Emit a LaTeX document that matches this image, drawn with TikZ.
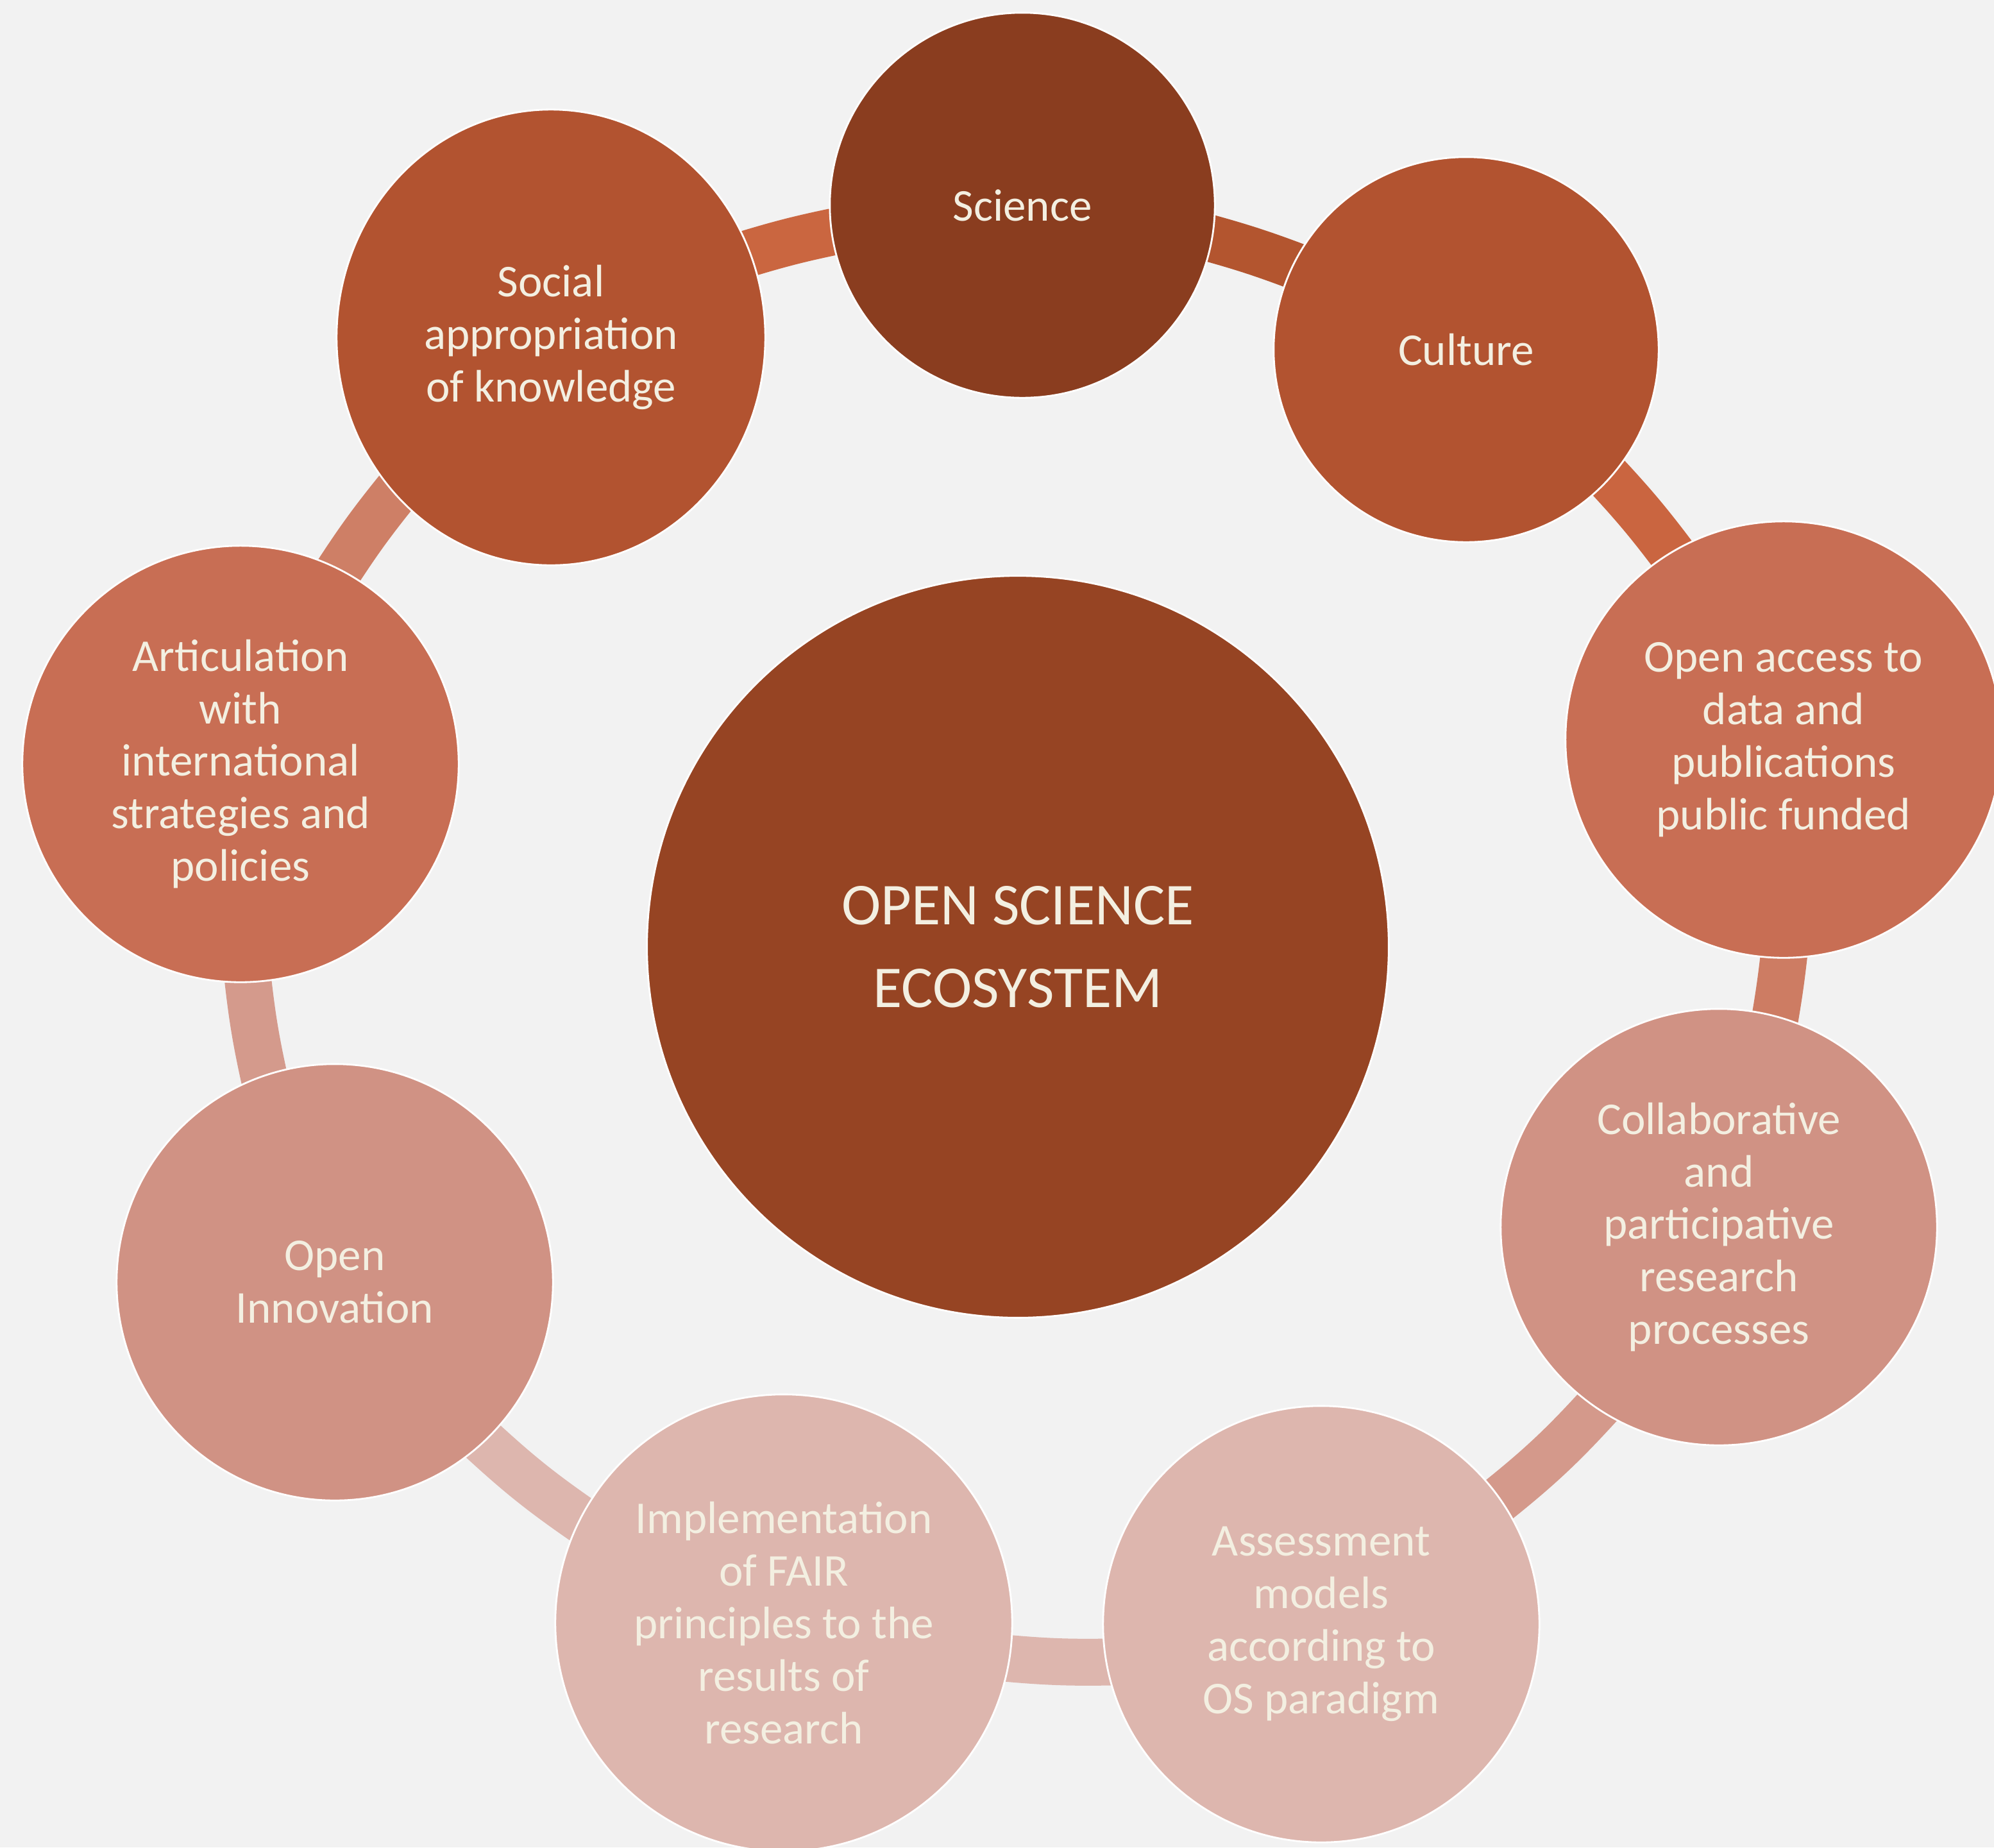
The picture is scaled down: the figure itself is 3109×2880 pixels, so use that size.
\documentclass[tikz,border=0pt]{standalone}
\usepackage{fontspec}
\setmainfont{Carlito}
\usetikzlibrary{shapes.geometric}
\definecolor{bgc}{HTML}{F2F2F2}
\definecolor{txt}{HTML}{F3EFE1}
\definecolor{cC}{HTML}{964423}
\definecolor{c0}{HTML}{8A3D1F}
\definecolor{c1}{HTML}{B25330}
\definecolor{c2}{HTML}{C86E54}
\definecolor{c3}{HTML}{D09284}
\definecolor{c4}{HTML}{DDB6AE}
\definecolor{r1}{HTML}{CA6640}
\definecolor{r2}{HTML}{B3552F}
\definecolor{r3}{HTML}{CA6540}
\definecolor{r4}{HTML}{CD7C63}
\definecolor{r5}{HTML}{D4998B}
\definecolor{r6}{HTML}{DDB6AE}
\definecolor{r7}{HTML}{D49A8C}
\definecolor{r8}{HTML}{CE7F66}
\pgfdeclarelayer{bglayer}
\pgfdeclarelayer{ringlayer}
\pgfsetlayers{bglayer,ringlayer,main}
\begin{document}
\begin{tikzpicture}[x=0.01cm,y=-0.01cm,
  sat/.style={circle, draw=white, line width=0.8pt, inner sep=0pt, text=txt, align=center,
    font=\fontsize{20.2}{23.3}\selectfont},
  ringseg/.style={line width=0.73cm, shorten <=-0.5cm, shorten >=-0.5cm}
]
\useasboundingbox (0,0) rectangle (3109,2880);
\begin{pgfonlayer}{bglayer}
\fill[bgc] (0,0) rectangle (3109,2880);
\end{pgfonlayer}

\node[sat, fill=cC, minimum size=11.56cm, font=\fontsize{26.3}{36.6}\selectfont] (eco) at (1587,1476) {OPEN SCIENCE\\ECOSYSTEM};
\node[sat, fill=c0, minimum size=6cm] (sci) at (1594,320) {Science};
\node[sat, fill=c1, minimum size=6cm] (cul) at (2286,545) {Culture};
\node[sat, fill=c2, minimum size=6.8cm] (oa) at (2781,1153) {Open access to\\data and\\publications\\public funded};
\node[sat, fill=c3, minimum size=6.8cm] (col) at (2680,1913) {Collaborative\\and\\participative\\research\\processes};
\node[sat, fill=c4, minimum size=6.8cm] (ass) at (2060,2532) {Assessment\\models\\according to\\OS paradigm};
\node[sat, fill=c4, minimum size=7.12cm] (imp) at (1222,2530) {Implementation\\of FAIR\\principles to the\\results of\\research};
\node[sat, fill=c3, minimum size=6.8cm] (oi) at (522,1999) {Open\\Innovation};
\node[sat, fill=c2, minimum size=6.8cm] (art) at (375,1191) {Articulation\\with\\international\\strategies and\\policies};
\node[sat, ellipse, fill=c1, minimum width=6.68cm, minimum height=7.1cm] (soc) at (859,526) {Social\\appropriation\\of knowledge};

\begin{pgfonlayer}{ringlayer}
\draw[ringseg, draw=r1] (soc.23.3) to[bend left=3] (sci.-172.3);
\draw[ringseg, draw=r2] (sci.-10.9) to[bend left=3] (cul.154.8);
\draw[ringseg, draw=r3] (cul.-42.2) to[bend left=3.4] (oa.121.2);
\draw[ringseg, draw=r4] (oa.-90.2) to[bend left=2] (col.75.1);
\draw[ringseg, draw=r5] (col.-124.7) to[bend left=5] (ass.35);
\draw[ringseg, draw=r6] (ass.-170.6) to[bend left=3.5] (imp.-9.3);
\draw[ringseg, draw=r6] (imp.153.1) to[bend left=4.5] (oi.-47.9);
\draw[ringseg, draw=r7] (oi.109.5) to[bend left=3.5] (art.-88.9);
\draw[ringseg, draw=r8] (art.63.5) to[bend left=3.4] (soc.-135.4);
\end{pgfonlayer}
\end{tikzpicture}
\end{document}
